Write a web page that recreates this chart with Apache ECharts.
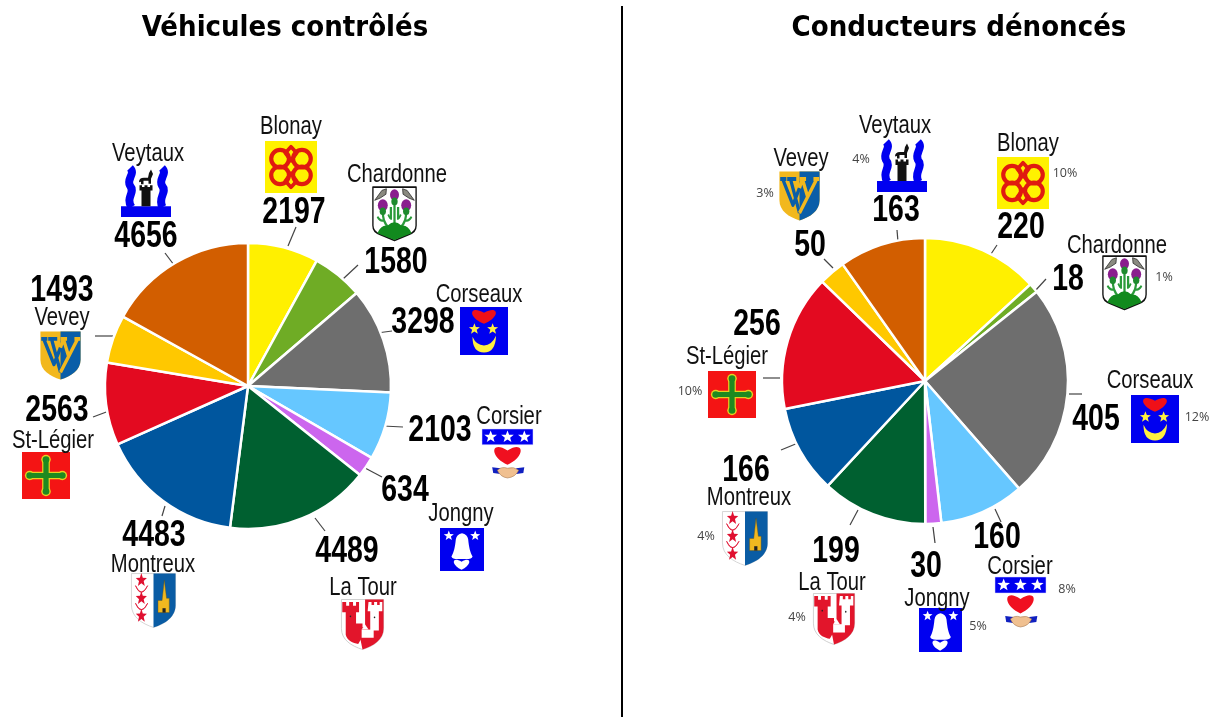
<!DOCTYPE html>
<html><head><meta charset="utf-8">
<style>html,body{margin:0;padding:0;background:#fff}#c{width:1210px;height:717px}</style>
<script src="https://cdn.jsdelivr.net/npm/echarts@6/dist/echarts.min.js"></script>
</head><body><div id="c"></div>
<script>
// ---------- data ----------
const communes = ['Blonay','Chardonne','Corseaux','Corsier','Jongny','La Tour','Montreux','St-Légier','Vevey','Veytaux'];
const vehicules = [2197,1580,3298,2103,634,4489,4483,2563,1493,4656];
const conducteurs = [220,18,405,160,30,199,166,256,50,163];
const percents = ['10%','1%','12%','8%','5%','4%','4%','10%','3%','4%'];
const titles = ['Véhicules contrôlés','Conducteurs dénoncés'];
const colours = ['#FFF000','#6FAC25','#6E6E6E','#66C7FF','#CC66EE','#006030','#00569E','#E30A20','#FFC800','#D25E00'];

// ---------- layout tables (one row per commune, same order) ----------
const numPosL = [[294,213],[396,263],[423,323],[440,431],[405,491],[347,552],[154,536],[57,411],[62,291],[146,237]];
const numPosR = [[1021,228],[1068,280],[1096,420],[997,538],[926,567],[836,552],[746,471],[757,325],[810,246],[896,211]];
const namePosL = [[291,127],[397,175],[479,295],[509,417],[461,514],[363,588],[153,565],[53,441],[62,318],[148,154]];
const namePosR = [[1028,144],[1117,246],[1150,381],[1020,567],[937,599],[832,583],[749,498],[727,357],[801,159],[895,126]];
const pctPos = [[1065,173],[1164,277],[1197,417],[1067,589],[978,626],[797,617],[706,536],[690,391],[765,193],[861,159]];
const crestL = [[265,141,52,52],[372,186,45,55],[460,307,48,48],[482,429,51,49],[440,528,44,43],[341,599,43,51],[131,573,45,55],[22,452,48,47],[40,331,41,49],[121,168,50,49]];
const crestR = [[997,157,52,52],[1102,255,45,55],[1131,395,48,48],[995,577,51,50],[919,608,43,44],[813,593,42,52],[722,511,46,55],[708,371,48,47],[779,171,41,50],[877,142,50,50]];
const leadL = [[296,227,288,246],[358,265,343,279],[392,331,377,333],[403,427,383,426],[382,477,365,468],[325,531,315,518],[162,516,165,506],[93,417,109,411],[95,336,113,336],[165,253,174,265]];
const leadR = [[997,245,991,254],[1046,279,1035,291],[1069,394,1082,394],[995,509,1001,522],[933,527,935,543],[858,510,850,525],[798,443,781,450],[780,378,763,378],[833,268,824,259],[898,242,897,230]];

// ---------- crest drawing helpers (100x100 local units) ----------
const pathCache={};
echarts.graphic.registerShape('svgPath',echarts.graphic.extendShape({type:'svgPath',shape:{pathData:''},buildPath(ctx,shape){
  const p=pathCache[shape.pathData]||(pathCache[shape.pathData]=echarts.graphic.makePath(shape.pathData));
  p.buildPath(ctx,p.shape);
}}));
const P=(d,fill,stroke,lw)=>({type:'svgPath',shape:{pathData:d},style:{fill:fill||'none',stroke:stroke||'none',lineWidth:lw||0,lineJoin:'round'},silent:true});
const R=(x,y,w,h,fill,stroke,lw)=>({type:'rect',shape:{x,y,width:w,height:h},style:{fill,stroke:stroke||'none',lineWidth:lw||0},silent:true});
const C=(cx,cy,r,fill,stroke,lw)=>({type:'circle',shape:{cx,cy,r},style:{fill:fill||'none',stroke:stroke||'none',lineWidth:lw||0},silent:true});
function star(cx,cy,r){let d='';for(let i=0;i<10;i++){const a=-Math.PI/2+i*Math.PI/5,q=i%2?r*0.42:r;d+=(i?'L':'M')+(cx+q*Math.cos(a)).toFixed(2)+' '+(cy+q*Math.sin(a)).toFixed(2);}return d+'Z';}
function heart(cx,cy,w,h){return `M${cx} ${cy+h/2}C${cx-w*.85} ${cy+h*.02} ${cx-w*.72} ${cy-h*.85} ${cx} ${cy-h*.26}C${cx+w*.72} ${cy-h*.85} ${cx+w*.85} ${cy+h*.02} ${cx} ${cy+h/2}Z`;}
const shield='M1 1H99V58C99 80 76 92 50 99C24 92 1 80 1 58Z';
const BLUE='#0000F0';
const crests=[
 // Blonay
 ()=>[R(0,0,100,100,'#FFF200'),
   C(29,34,17,null,'#E01A10',8),C(71,34,17,null,'#E01A10',8),C(29,66,17,null,'#E01A10',8),C(71,66,17,null,'#E01A10',8),
   P('M50 11L61 23L50 38L39 23Z',null,'#E01A10',7),P('M50 89L61 77L50 62L39 77Z',null,'#E01A10',7)],
 // Chardonne
 ()=>[P('M2 2H98V72Q98 84 82 88L50 99L18 88Q2 84 2 72Z','#fff','#111',3),
   P('M50 26V72M24 44C24 58 26 68 38 76M76 44C76 58 74 68 62 76M42 38V60M58 38V60','none','#2A9A3A',5),
   P('M12 56Q20 66 26 62M88 56Q80 66 74 62M36 52Q40 60 44 60M64 52Q60 60 56 60','none','#2A9A3A',4),
   P('M12 86Q20 70 35 72Q50 60 65 72Q80 70 88 86L50 98Z','#128A1E'),
   C(50,16,10,'#8A1E8E'),C(50,28,7,'#1E8A2E'),C(24,35,11,'#8A1E8E'),C(24,46,7,'#1E8A2E'),C(76,35,11,'#8A1E8E'),C(76,46,7,'#1E8A2E'),
   P('M6 26L22 8L32 5L31 15L18 22Z','#8A8A80','#222',1.5),P('M94 26L78 8L68 5L69 15L82 22Z','#8A8A80','#222',1.5)],
 // Corseaux
 ()=>[R(0,0,100,100,BLUE),P(heart(50,20,42,30),'#F01018'),P(star(30,46,12),'#FFF040'),P(star(68,46,12),'#FFF040'),
   P('M26 62Q26 95 50 95Q74 95 75 60Q66 80 50 80Q34 80 26 62Z','#FFF040')],
 // Corsier
 ()=>[R(0,0,100,32,BLUE,'#D8D8FF',1),P(star(17,16,13),'#fff'),P(star(50,16,13),'#fff'),P(star(83,16,13),'#fff'),
   P(heart(50,54,44,38),'#F01020'),
   P('M20 78L36 80V92L22 90Z','#1020C0'),P('M83 78L67 80V92L81 90Z','#1020C0'),
   P('M30 84Q38 76 50 80Q62 76 72 84Q66 98 50 100Q36 98 30 84Z','#F0C090','#9A6A40',1)],
 // Jongny
 ()=>[R(0,0,100,100,BLUE),P(star(20,18,12),'#fff'),P(star(80,18,12),'#fff'),
   P('M50 12Q62 14 64 26C66 45 68 55 74 66Q72 72 60 72H40Q28 72 26 66C32 55 34 45 36 26Q38 14 50 12Z','#fff'),
   P(heart(49,85,30,24),'#fff')],
 // La Tour
 ()=>[P(shield,'#fff','#BDBDBD',1.5),
   P('M56 1H99V58C99 80 76 92 50 99L44 74L50 55H56Z','#E2152B'),
   P('M64 6h7v6h6v-6h7v6h6v-6h6V24H88V62H68V24H62Z','#fff'),
   P('M3 6h9v7h7v-7h9v7h7v-7h7V26H35V48H50V74L40 88C28 86 14 82 11 70V26H3Z','#E2152B'),
   C(22,34,1.8,'#222'),C(78,36,1.8,'#222'),R(48,60,28,16,'#fff'),P('M48 60L56 50L64 60Z','#fff')],
 // Montreux
 ()=>[P(shield,'#fff','#C8C8C8',1.5),P('M50 1H99V58C99 80 76 92 50 99Z','#0A5CA4'),
   P(star(23,13,13),'#E01030'),P(star(23,46,13),'#E01030'),P(star(23,78,13),'#E01030'),
   P('M10 23Q23 46 37 23Q30 35 23 35Q16 35 10 23Z','#E01030','#E01030',1.5),P('M10 55Q23 78 37 55Q30 67 23 67Q16 67 10 55Z','#E01030','#E01030',1.5),
   P('M74 13L79 46H85V72H60V50H69Z','#F0B820','#6A5010',.8),R(70,64,7,8,'#222')],
 // St-Légier
 ()=>[R(0,0,100,100,'#F41414'),
   P('M50 18V82M18 50H82','none','#E8D020',16),C(50,16,10,'#E8D020'),C(50,84,10,'#E8D020'),C(16,50,10,'#E8D020'),C(84,50,10,'#E8D020'),
   C(50,16,7,'#1E8A20'),C(50,84,7,'#1E8A20'),C(16,50,7,'#1E8A20'),C(84,50,7,'#1E8A20'),
   P('M50 18V82M18 50H82','none','#1E8A20',11)],
 // Vevey
 ()=>[P(shield,'#F2B81E'),P('M50 1H99V58C99 80 76 92 50 99Z','#0A5EA8'),
   P('M9 16L34 68L50 34M28 16L50 84M3 16H18M20 16H42','none','#0A5EA8',8),
   P('M50 34L57 16M50 84L92 16M70 52L57 16M50 16H66M84 16H98','none','#F2B81E',8)],
 // Veytaux
 ()=>[P('M18 0C30 12 10 22 18 36C30 50 8 60 21 80M82 0C94 12 74 22 82 36C94 50 72 60 83 80','none',BLUE,16),
   R(0,78,100,22,BLUE),
   P('M36 29Q36 20 46 20H54L56 10L60 3L64 12L60 22V32H55V26H45V33H40V28Z','#111'),
   P('M37 35h5v4h5v-4h6v4h5v-4h5V46H59V78H41V46H37Z','#111')]
];
function crestGroup(box,i){return {type:'group',x:box[0],y:box[1],scaleX:box[2]/100,scaleY:box[3]/100,children:crests[i](),silent:true};}

const SANS='"Liberation Sans",Arial,sans-serif';
const txt=(t,x,y,font,fill,sx)=>({type:'text',x,y,scaleX:sx||1,silent:true,z:5,style:{text:String(t),font,fill,textAlign:'center',textVerticalAlign:'middle'}});
const seg=(l)=>({type:'line',silent:true,shape:{x1:l[0],y1:l[1],x2:l[2],y2:l[3]},style:{stroke:'#444',lineWidth:1.2}});

const graphic=[];
titles.forEach((t,i)=>{graphic.push(txt(t,[285,959][i],28,'bold 29px "DejaVu Sans Condensed","DejaVu Sans",sans-serif','#000'));});
graphic.push({type:'line',silent:true,shape:{x1:622,y1:6,x2:622,y2:717},style:{stroke:'#000',lineWidth:2}});
communes.forEach((n,i)=>{
  graphic.push(crestGroup(crestL[i],i),crestGroup(crestR[i],i));
  graphic.push(seg(leadL[i]),seg(leadR[i]));
  graphic.push(txt(n,namePosL[i][0],namePosL[i][1],'25px '+SANS,'#111',.81),txt(n,namePosR[i][0],namePosR[i][1],'25px '+SANS,'#111',.81));
  graphic.push(txt(vehicules[i],numPosL[i][0],numPosL[i][1],'bold 36px '+SANS,'#000',.79),txt(conducteurs[i],numPosR[i][0],numPosR[i][1],'bold 36px '+SANS,'#000',.79));
  graphic.push(txt(percents[i],pctPos[i][0],pctPos[i][1],'12.5px "Open Sans",sans-serif','#444'));
});

function pie(values,center){
  return {type:'pie',center,radius:143,startAngle:90,clockwise:true,avoidLabelOverlap:false,silent:true,animation:false,
    itemStyle:{borderColor:'#fff',borderWidth:2.5},label:{show:false},labelLine:{show:false},
    data:values.map((v,i)=>({name:communes[i],value:v,itemStyle:{color:colours[i]}}))};
}
const chart=echarts.init(document.getElementById('c'),null,{renderer:'canvas'});
chart.setOption({backgroundColor:'#fff',animation:false,tooltip:{show:false},
  series:[pie(vehicules,[248,386]),pie(conducteurs,[925,381])],graphic});
</script></body></html>
